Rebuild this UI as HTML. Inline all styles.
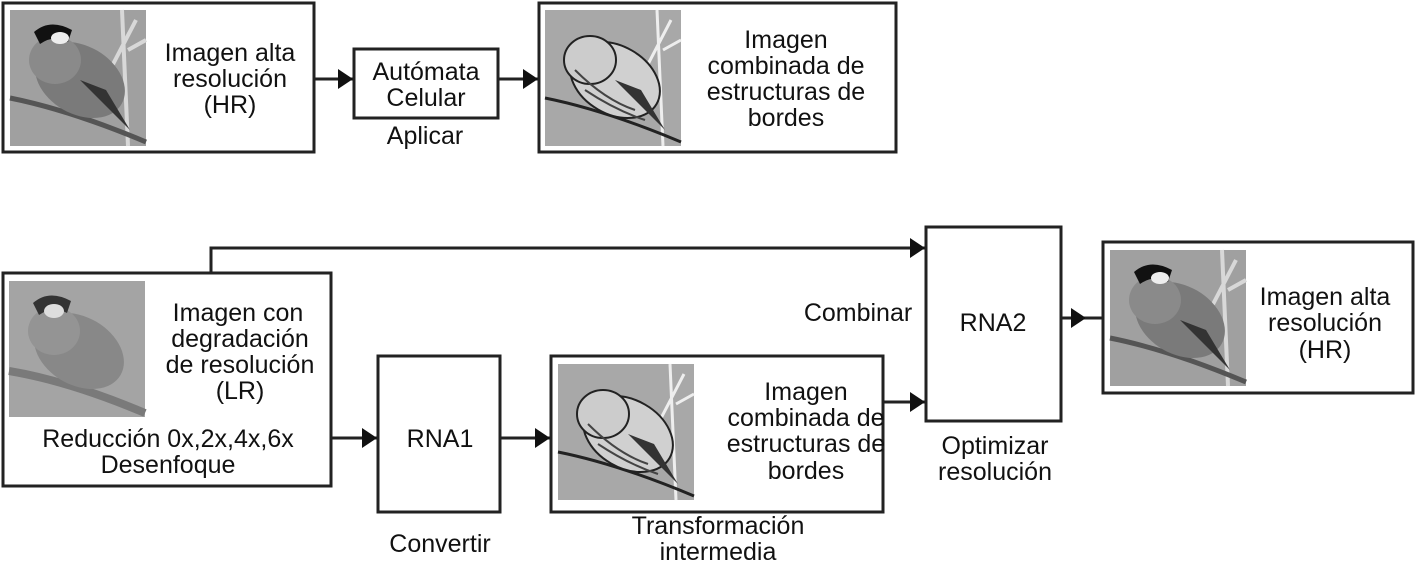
<!DOCTYPE html>
<html><head><meta charset="utf-8"><style>
html,body{margin:0;padding:0;background:#fff;}
svg{display:block;}
text{font-family:"Liberation Sans",sans-serif;font-size:25px;fill:#111;text-anchor:middle;}
</style></head><body>
<svg width="1415" height="563" viewBox="0 0 1415 563" xmlns="http://www.w3.org/2000/svg">
<defs>
<g id="bird">
<rect x="0" y="0" width="136" height="136" fill="#a0a0a0"/>
<path d="M112 0 L118 136 M126 10 L100 60 M118 40 L136 30" stroke="#d8d8d8" stroke-width="4" fill="none"/>
<path d="M0 88 Q60 100 136 132" stroke="#555" stroke-width="5" fill="none"/>
<ellipse cx="70" cy="70" rx="48" ry="34" fill="#7a7a7a" transform="rotate(30 70 70)"/>
<ellipse cx="45" cy="50" rx="26" ry="24" fill="#8a8a8a"/>
<path d="M24 22 Q40 8 62 20 L58 32 Q44 24 30 34 Z" fill="#111"/>
<ellipse cx="50" cy="28" rx="9" ry="6" fill="#eee"/>
<path d="M70 70 L120 120 L96 80 Z" fill="#333"/>
</g>
<g id="edge">
<rect x="0" y="0" width="136" height="136" fill="#a8a8a8"/>
<path d="M112 0 L118 136 M126 10 L100 60 M118 40 L136 30" stroke="#eee" stroke-width="3" fill="none"/>
<path d="M0 88 Q60 100 136 132" stroke="#222" stroke-width="3" fill="none"/>
<ellipse cx="70" cy="70" rx="48" ry="34" fill="#d0d0d0" stroke="#222" stroke-width="2" transform="rotate(30 70 70)"/>
<ellipse cx="45" cy="50" rx="26" ry="24" fill="#ccc" stroke="#222" stroke-width="2"/>
<path d="M70 70 L120 120 L96 80 Z" fill="#333"/>
<path d="M30 60 Q60 90 90 100 M40 80 Q70 100 100 110" stroke="#444" stroke-width="2" fill="none"/>
</g>
<g id="blur">
<rect x="0" y="0" width="136" height="136" fill="#a4a4a4"/>
<path d="M0 90 Q60 100 136 132" stroke="#7a7a7a" stroke-width="8" fill="none"/>
<ellipse cx="70" cy="70" rx="48" ry="34" fill="#888" transform="rotate(30 70 70)"/>
<ellipse cx="45" cy="50" rx="26" ry="24" fill="#949494"/>
<path d="M24 22 Q40 8 62 20 L58 32 Q44 24 30 34 Z" fill="#333"/>
<ellipse cx="45" cy="30" rx="10" ry="7" fill="#ddd"/>
</g>
<marker id="ah" markerWidth="16" markerHeight="20" refX="15" refY="10" orient="auto" markerUnits="userSpaceOnUse">
<path d="M0 0 L15 10 L0 20 Z" fill="#111"/>
</marker>
</defs>
<g fill="none" stroke="#222" stroke-width="3">
<rect x="3" y="3" width="311" height="149" fill="#fff"/>
<rect x="354" y="49" width="144" height="69" fill="#fff"/>
<rect x="539" y="3" width="357" height="149" fill="#fff"/>
<rect x="3" y="273" width="328" height="213" fill="#fff"/>
<rect x="378" y="356" width="122" height="156" fill="#fff"/>
<rect x="551" y="356" width="332" height="156" fill="#fff"/>
<rect x="926" y="227" width="135" height="194" fill="#fff"/>
<rect x="1103" y="242" width="310" height="151" fill="#fff"/>
<path d="M314 79 H353" marker-end="url(#ah)"/>
<path d="M498 79 H538" marker-end="url(#ah)"/>
<path d="M211 272 V248 H925" marker-end="url(#ah)"/>
<path d="M331 438 H377" marker-end="url(#ah)"/>
<path d="M500 438 H550" marker-end="url(#ah)"/>
<path d="M883 402 H925" marker-end="url(#ah)"/>
<path d="M1061 318 H1086" marker-end="url(#ah)"/>
<path d="M1085 318 H1102"/>
</g>
<use href="#bird" x="10" y="10"/>
<use href="#edge" x="545" y="10"/>
<use href="#blur" x="9" y="281"/>
<use href="#edge" x="558" y="364"/>
<use href="#bird" x="1110" y="250"/>
<text x="230" y="61">Imagen alta</text>
<text x="230" y="87">resolución</text>
<text x="230" y="113">(HR)</text>
<text x="426" y="80">Autómata</text>
<text x="426" y="106">Celular</text>
<text x="425" y="144">Aplicar</text>
<text x="786" y="48">Imagen</text>
<text x="786" y="74">combinada de</text>
<text x="786" y="100">estructuras de</text>
<text x="786" y="126">bordes</text>
<text x="238" y="321">Imagen con</text>
<text x="240" y="347">degradación</text>
<text x="240" y="373">de resolución</text>
<text x="240" y="399">(LR)</text>
<text x="168" y="447">Reducción 0x,2x,4x,6x</text>
<text x="168" y="473">Desenfoque</text>
<text x="440" y="447">RNA1</text>
<text x="440" y="552">Convertir</text>
<text x="806" y="400">Imagen</text>
<text x="806" y="426">combinada de</text>
<text x="806" y="452">estructuras de</text>
<text x="806" y="479">bordes</text>
<text x="718" y="534">Transformación</text>
<text x="718" y="560">intermedia</text>
<text x="858" y="321">Combinar</text>
<text x="993" y="331">RNA2</text>
<text x="995" y="454">Optimizar</text>
<text x="995" y="480">resolución</text>
<text x="1325" y="305">Imagen alta</text>
<text x="1325" y="331">resolución</text>
<text x="1325" y="358">(HR)</text>
</svg>
</body></html>
